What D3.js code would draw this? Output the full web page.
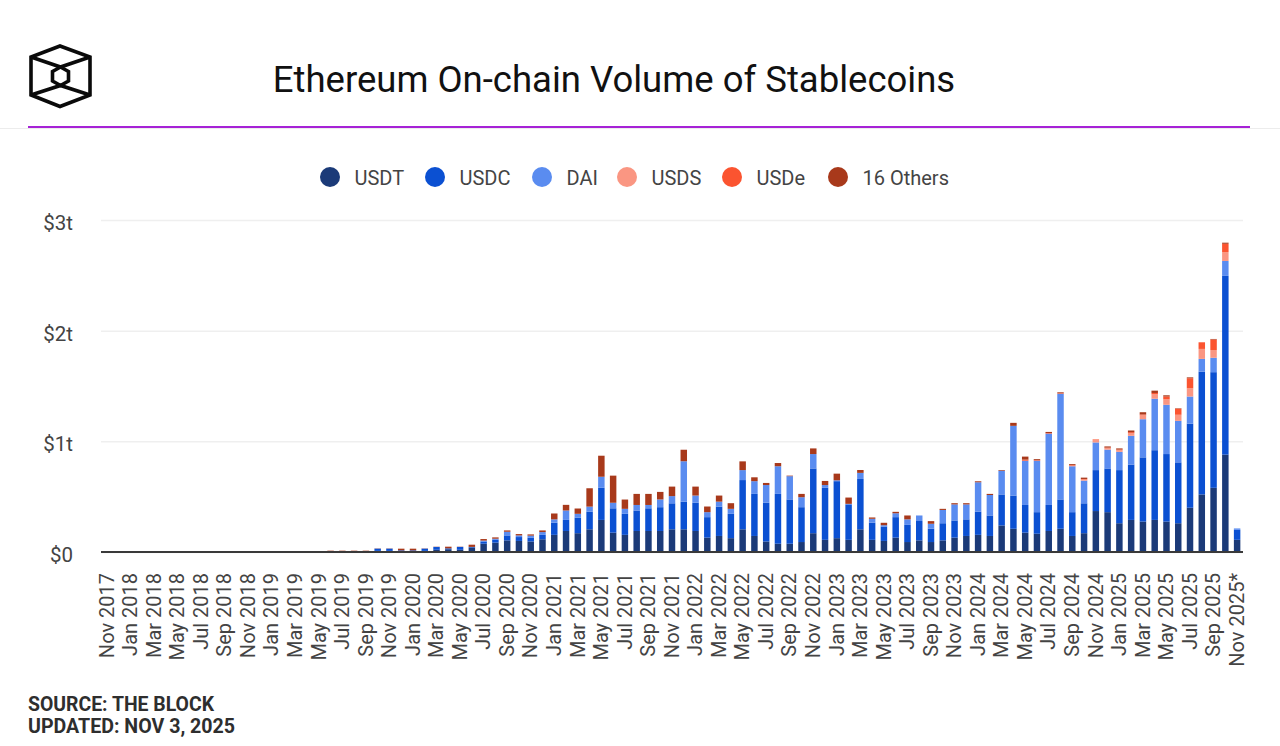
<!DOCTYPE html>
<html>
<head>
<meta charset="utf-8">
<script src="https://cdn.jsdelivr.net/npm/d3@7"></script>
<style>
  html, body { margin: 0; padding: 0; background: #fff; }
  svg { display: block; font-family: Roboto, sans-serif; }
</style>
</head>
<body>
<svg id="viz"></svg>
<script>
const WIDTH = 1280;
const HEIGHT = 746;

const months = [
  "Nov 2017","Dec 2017","Jan 2018","Feb 2018","Mar 2018","Apr 2018","May 2018","Jun 2018","Jul 2018","Aug 2018","Sep 2018","Oct 2018",
  "Nov 2018","Dec 2018","Jan 2019","Feb 2019","Mar 2019","Apr 2019","May 2019","Jun 2019","Jul 2019","Aug 2019","Sep 2019","Oct 2019",
  "Nov 2019","Dec 2019","Jan 2020","Feb 2020","Mar 2020","Apr 2020","May 2020","Jun 2020","Jul 2020","Aug 2020","Sep 2020","Oct 2020",
  "Nov 2020","Dec 2020","Jan 2021","Feb 2021","Mar 2021","Apr 2021","May 2021","Jun 2021","Jul 2021","Aug 2021","Sep 2021","Oct 2021",
  "Nov 2021","Dec 2021","Jan 2022","Feb 2022","Mar 2022","Apr 2022","May 2022","Jun 2022","Jul 2022","Aug 2022","Sep 2022","Oct 2022",
  "Nov 2022","Dec 2022","Jan 2023","Feb 2023","Mar 2023","Apr 2023","May 2023","Jun 2023","Jul 2023","Aug 2023","Sep 2023","Oct 2023",
  "Nov 2023","Dec 2023","Jan 2024","Feb 2024","Mar 2024","Apr 2024","May 2024","Jun 2024","Jul 2024","Aug 2024","Sep 2024","Oct 2024",
  "Nov 2024","Dec 2024","Jan 2025","Feb 2025","Mar 2025","Apr 2025","May 2025","Jun 2025","Jul 2025","Aug 2025","Sep 2025","Oct 2025",
  "Nov 2025*"
];

// all values in $ billions
const usdt = [
  0,0,0,0,0,0,0,0,0,0,0,0,
  0,0,1,1,1,1,1,2,2,2,2,10,
  10,5,5,10,20,25,20,40,75,85,105,100,
  95,115,155,190,170,205,290,175,155,190,190,190,
  205,205,190,130,145,125,205,145,95,75,75,90,
  170,110,125,110,205,110,100,130,90,105,90,105,
  130,145,155,145,240,210,175,165,190,210,145,170,
  370,360,260,290,275,290,275,260,400,520,580,880,
  110
];
const usdc = [
  0,0,0,0,0,0,0,0,0,0,0,0,
  0,0,0,0,0,0,0,3,3,3,3,20,
  20,10,10,20,25,8,26,6,20,25,45,35,
  33,40,110,100,140,160,290,220,190,185,205,215,
  235,250,255,185,265,220,445,380,350,450,400,315,
  585,470,515,320,455,155,130,185,155,175,120,155,
  155,150,210,185,280,300,250,195,235,265,215,270,
  370,395,480,500,580,630,610,550,760,1110,1045,1615,
  90
];
const dai = [
  0,0,0,0,0,0,0,0,0,0,0,0,
  0,0,0,0,0,0,0,1,1,1,1,1,
  1,0,0,1,1,0,0,0,8,10,33,15,
  20,25,30,85,35,45,100,50,45,50,30,70,
  65,365,65,45,45,45,90,115,160,250,210,90,
  130,25,8,5,55,35,12,35,50,50,45,120,
  145,135,265,185,215,630,400,465,645,955,415,205,
  250,170,165,260,345,465,445,375,245,115,130,135,
  13
];
const usds = [
  0,0,0,0,0,0,0,0,0,0,0,0,
  0,0,0,0,0,0,0,0,0,0,0,0,
  0,0,0,0,0,0,0,0,0,0,0,0,
  0,0,0,0,0,0,0,0,0,0,0,0,
  0,0,0,0,0,0,0,0,0,0,0,0,
  0,0,0,0,0,0,0,0,0,0,0,0,
  0,0,0,0,0,0,0,0,0,0,5,10,
  20,14,15,25,35,40,50,55,75,90,70,80,
  0
];
const usde = [
  0,0,0,0,0,0,0,0,0,0,0,0,
  0,0,0,0,0,0,0,0,0,0,0,0,
  0,0,0,0,0,0,0,0,0,0,0,0,
  0,0,0,0,0,0,0,0,0,0,0,0,
  0,0,0,0,0,0,0,0,0,0,0,0,
  0,0,0,0,0,0,0,0,0,0,0,0,
  0,0,0,0,0,0,10,5,5,5,5,5,
  7,5,6,8,8,12,25,55,90,60,95,75,
  0
];
const others = [
  0,0,0,0,0,0,0,0,0,0,0,0,
  0,0,1,1,1,1,1,6,6,6,6,2,
  2,15,15,2,2,15,2,20,14,12,12,12,
  11,15,53,51,48,166,190,245,84,100,100,68,
  86,104,81,51,55,51,79,35,19,29,5,30,
  51,37,60,57,26,12,22,13,35,0,24,10,
  11,11,9,10,6,27,27,9,10,8,9,12,
  0,10,10,15,20,21,11,4,8,0,5,10,
  0
];

const yTicks = [0, 1000, 2000, 3000];
const tickLabels = ["$0", "$1t", "$2t", "$3t"];

const seriesKeys = ["USDT", "USDC", "DAI", "USDS", "USDe", "16 Others"];
const seriesColors = ["#1b3a78", "#0b50d2", "#5a8cf0", "#fa9682", "#fb5430", "#a8391b"];
const legendX = [330, 435, 542, 627, 732, 838];

const rows = months.map((m, i) => ({
  month: m, USDT: usdt[i], USDC: usdc[i], DAI: dai[i], USDS: usds[i], USDe: usde[i], "16 Others": others[i]
}));

const svg = d3.select("#viz").attr("width", WIDTH).attr("height", HEIGHT);

const x = d3.scaleBand().domain(months).range([101, 1243]).paddingInner(0.45).paddingOuter(0.225);
const y = d3.scaleLinear().domain([0, 3000]).range([552, 220]);
const color = d3.scaleOrdinal().domain(seriesKeys).range(seriesColors);

// header
const logo = svg.append("g")
  .attr("fill", "none").attr("stroke", "#0a0a0a").attr("stroke-width", 3.6).attr("stroke-linejoin", "miter");
logo.append("path").attr("d", "M60,46 L90,57 V95 L60,106.5 L31,95 V57 Z");
logo.append("path").attr("d", "M60.5,67 L68.5,71.5 V81 L60.5,85.5 L52.5,81 V71.5 Z");
logo.append("path").attr("d", "M31,57 L60.5,67 L90,57 M31,95 L60.5,85.5 L90,95");

svg.append("text")
  .attr("x", 614).attr("y", 91.5)
  .attr("text-anchor", "middle")
  .attr("font-size", 36.5).attr("fill", "#111")
  .text("Ethereum On-chain Volume of Stablecoins");

svg.append("line").attr("x1", 0).attr("x2", WIDTH).attr("y1", 128.5).attr("y2", 128.5)
  .attr("stroke", "#ececec").attr("stroke-width", 1);
svg.append("line").attr("x1", 28).attr("x2", 1250).attr("y1", 127).attr("y2", 127)
  .attr("stroke", "#a622d6").attr("stroke-width", 2);

// legend
const legend = svg.append("g").selectAll("g").data(seriesKeys).join("g")
  .attr("transform", (d, i) => `translate(${legendX[i]},177)`);
legend.append("circle").attr("r", 10).attr("fill", d => color(d));
legend.append("text")
  .attr("x", 24.5).attr("dy", "0.38em")
  .attr("font-size", 20).attr("fill", "#444")
  .text(d => d);

// gridlines + y labels
const yAxis = svg.append("g")
  .attr("transform", "translate(101,0)")
  .call(d3.axisLeft(y).tickValues(yTicks).tickFormat((d, i) => tickLabels[i]).tickSize(-1142).tickPadding(28));
yAxis.select(".domain").remove();
yAxis.selectAll("line").attr("stroke", "#efefef").attr("stroke-width", 1.5);
yAxis.selectAll("text").attr("font-size", 20.5).attr("fill", "#444").attr("font-family", "Roboto, sans-serif").attr("dy", "0.47em");

// bars
const stacked = d3.stack().keys(seriesKeys)(rows);
svg.append("g").selectAll("g").data(stacked).join("g")
  .attr("fill", d => color(d.key))
  .selectAll("rect").data(d => d).join("rect")
  .attr("x", d => x(d.data.month))
  .attr("width", x.bandwidth())
  .attr("y", d => y(d[1]))
  .attr("height", d => y(d[0]) - y(d[1]));

// x axis
const xAxis = svg.append("g")
  .attr("transform", "translate(0,552)")
  .call(d3.axisBottom(x).tickValues(months.filter((m, i) => i % 2 === 0)).tickSize(0).tickPadding(0));
xAxis.select(".domain").attr("d", "M101,0 H1243").attr("stroke", "#3a3a3a").attr("stroke-width", 2);
xAxis.selectAll("text")
  .attr("font-size", 20).attr("fill", "#444").attr("font-family", "Roboto, sans-serif")
  .attr("text-anchor", "end")
  .attr("transform", "rotate(-90)")
  .attr("x", -21).attr("y", -0.5).attr("dy", "0.36em");

// footer
svg.append("text").attr("x", 28).attr("y", 710.5)
  .attr("font-size", 19.4).attr("font-weight", 700).attr("fill", "#2e2e2e").text("SOURCE: THE BLOCK");
svg.append("text").attr("x", 28).attr("y", 732.5)
  .attr("font-size", 19.6).attr("font-weight", 700).attr("fill", "#2e2e2e").text("UPDATED: NOV 3, 2025");
</script>
</body>
</html>
